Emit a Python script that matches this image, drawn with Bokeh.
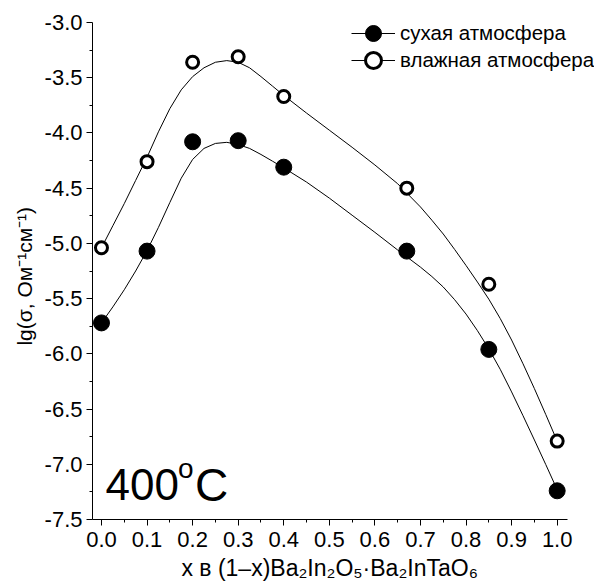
from bokeh.plotting import figure
from bokeh.models import FixedTicker, Legend, LegendItem, Label, PrintfTickFormatter
from bokeh.embed import file_html
from bokeh.resources import INLINE

# ---- data ----
x_pts = [0.0, 0.1, 0.2, 0.3, 0.4, 0.67, 0.85, 1.0]
dry = [-5.72, -5.07, -4.08, -4.07, -4.31, -5.07, -5.96, -7.24]
wet = [-5.04, -4.26, -3.36, -3.31, -3.67, -4.50, -5.37, -6.79]

# smooth fitted curves
fit_x = [0.0, 0.025, 0.05, 0.075, 0.1, 0.125, 0.15, 0.175, 0.2, 0.225, 0.25, 0.275,
         0.3, 0.325, 0.35, 0.375, 0.4, 0.45, 0.5, 0.55, 0.6, 0.65, 0.7, 0.725, 0.75,
         0.775, 0.8, 0.825, 0.85, 0.875, 0.9, 0.925, 0.95, 0.975, 1.0]
dry_fit = [-5.72, -5.575, -5.42, -5.25, -5.065, -4.855, -4.63, -4.41, -4.24, -4.14,
           -4.095, -4.085, -4.105, -4.14, -4.195, -4.255, -4.316, -4.445, -4.59, -4.745,
           -4.90, -5.06, -5.215, -5.30, -5.395, -5.51, -5.64, -5.79, -5.955, -6.14,
           -6.345, -6.56, -6.78, -7.003, -7.23]
wet_fit = [-5.04, -4.84, -4.64, -4.43, -4.22, -3.99, -3.78, -3.61, -3.49, -3.41,
           -3.36, -3.345, -3.36, -3.41, -3.49, -3.575, -3.66, -3.82, -3.975, -4.13,
           -4.29, -4.46, -4.67, -4.79, -4.915, -5.055, -5.20, -5.35, -5.505, -5.68,
           -5.875, -6.09, -6.315, -6.55, -6.79]

x_ticks = [0.0, 0.1, 0.2, 0.3, 0.4, 0.5, 0.6, 0.7, 0.8, 0.9, 1.0]
x_minor = [0.05, 0.15, 0.25, 0.35, 0.45, 0.55, 0.65, 0.75, 0.85, 0.95]
y_ticks = [-7.5, -7.0, -6.5, -6.0, -5.5, -5.0, -4.5, -4.0, -3.5, -3.0]
y_minor = [-7.25, -6.75, -6.25, -5.75, -5.25, -4.75, -4.25, -3.75, -3.25]

series_names = ["сухая атмосфера", "влажная атмосфера"]
# trailing em/thin spaces only re-centre the label under the drawn axis line
x_label = "x в (1–x)Ba₂In₂O₅·Ba₂InTaO₆\u2003\u2009"
y_label = "lg(σ, Ом⁻¹см⁻¹)\u2002"
temp_text = ["400", "o", "C"]

FONT = "Liberation Sans"
X_AXIS_END = 1.0226

p = figure(width=594, height=587, x_range=(-0.0197, 1.0819), y_range=(-7.5, -3.0),
           output_backend="svg", toolbar_location=None,
           min_border_left=92, min_border_right=0, min_border_top=22, min_border_bottom=68)
p.xgrid.visible = False
p.ygrid.visible = False
p.outline_line_color = None
p.background_fill_color = "white"
p.border_fill_color = "white"

for ax in (p.xaxis[0], p.yaxis[0]):
    ax.axis_line_color = "black"
    ax.axis_line_width = 1
    ax.major_tick_line_color = "black"
    ax.minor_tick_line_color = "black"
    ax.major_tick_in = 0
    ax.major_tick_out = 6
    ax.minor_tick_in = 0
    ax.minor_tick_out = 3
    ax.major_label_text_font = FONT
    ax.major_label_text_font_size = "22px"
    ax.major_label_text_color = "black"
    ax.axis_label_text_font = FONT
    ax.axis_label_text_font_style = "normal"
    ax.axis_label_text_color = "black"
    ax.formatter = PrintfTickFormatter(format="%.1f")

p.xaxis.bounds = (-0.0197, X_AXIS_END)
p.xaxis.ticker = FixedTicker(ticks=x_ticks, minor_ticks=x_minor)
p.yaxis.ticker = FixedTicker(ticks=y_ticks, minor_ticks=y_minor)
p.xaxis.major_label_standoff = 6
p.yaxis.major_label_standoff = 4
p.xaxis.axis_label = x_label
p.yaxis.axis_label = y_label
p.xaxis.axis_label_text_font_size = "23px"
p.yaxis.axis_label_text_font_size = "21px"
p.xaxis.axis_label_standoff = 5
p.yaxis.axis_label_standoff = 6

l_dry = p.line(fit_x, dry_fit, line_color="black", line_width=1)
l_wet = p.line(fit_x, wet_fit, line_color="black", line_width=1)
s_dry = p.scatter(x_pts, dry, marker="circle", size=16, fill_color="black", line_color="black")
s_wet = p.scatter(x_pts, wet, marker="circle", size=12, fill_color="white",
                  line_color="black", line_width=3)

leg_style = dict(padding=0, margin=0, spacing=0, glyph_width=44, glyph_height=40,
                 label_height=20, label_standoff=5, border_line_color=None,
                 background_fill_alpha=0, label_text_font=FONT,
                 label_text_font_size="20.5px", label_text_color="black")
legend1 = Legend(items=[LegendItem(label=series_names[0], renderers=[l_dry, s_dry])],
                 location=(259, 466), **leg_style)
legend2 = Legend(items=[LegendItem(label=series_names[1], renderers=[l_wet, s_wet])],
                 location=(259, 439), **leg_style)
p.add_layout(legend1)
p.add_layout(legend2)

p.add_layout(Label(x=0.009, y=-7.187, text=temp_text[0], text_font=FONT, text_font_size="44px",
                   text_baseline="alphabetic", text_color="black"))
p.add_layout(Label(x=0.168, y=-7.037, text=temp_text[1], text_font=FONT, text_font_size="28px",
                   text_baseline="alphabetic", text_color="black"))
p.add_layout(Label(x=0.205, y=-7.187, text=temp_text[2], text_font=FONT, text_font_size="46px",
                   text_baseline="alphabetic", text_color="black"))

open("out.html", "w").write(file_html(p, INLINE))
